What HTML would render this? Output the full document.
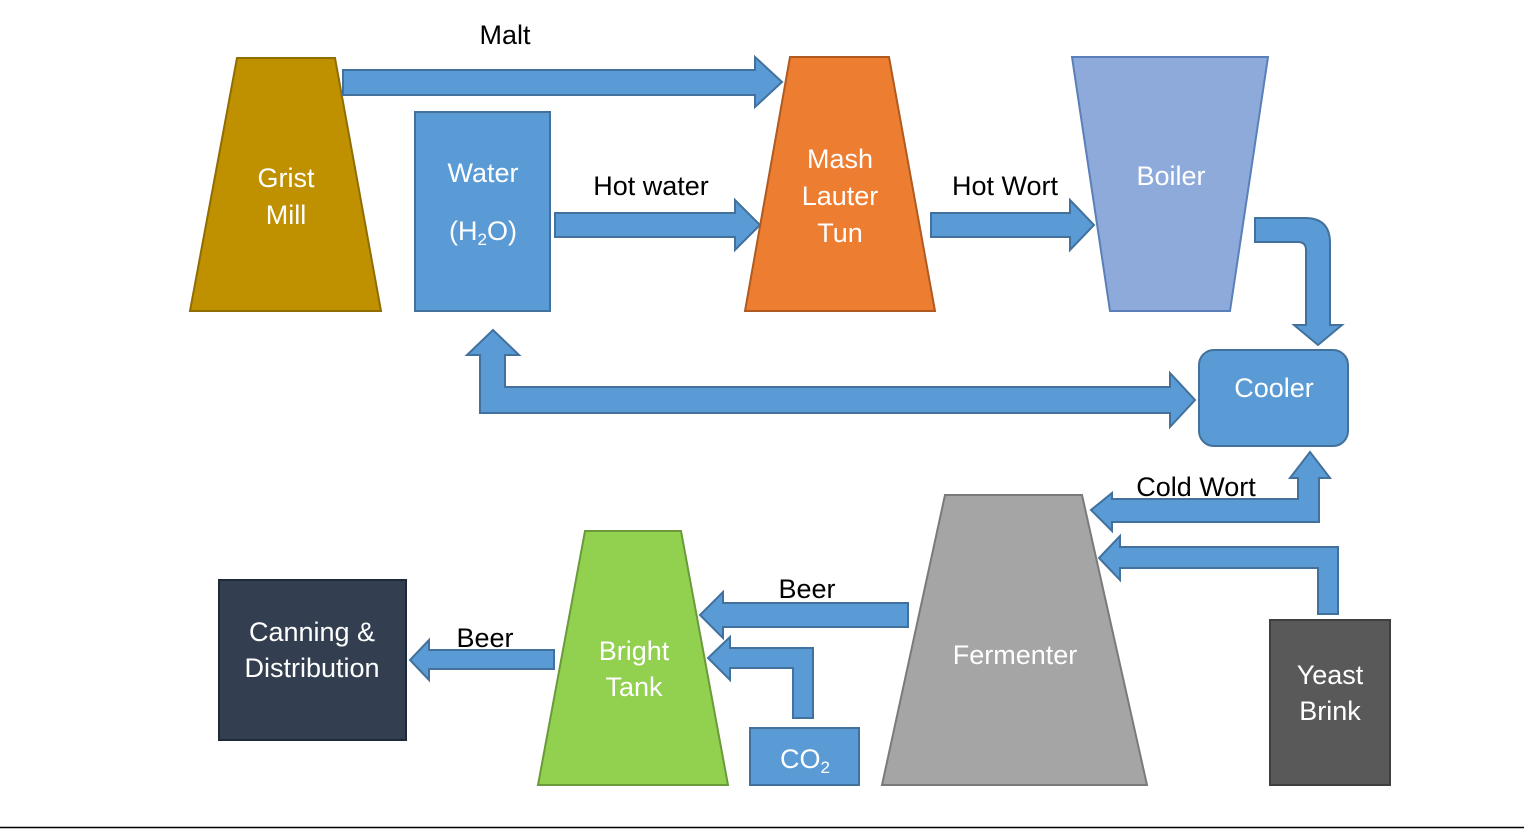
<!DOCTYPE html>
<html><head><meta charset="utf-8"><style>
html,body{margin:0;padding:0;background:#fff;}
svg{display:block;}
text{font-family:"Liberation Sans",sans-serif;font-size:27px;}
.w{fill:#fff;}
.k{fill:#000;}
.a{fill:#5b9bd5;stroke:#41719c;stroke-width:2;}
</style></head><body>
<svg width="1524" height="829" viewBox="0 0 1524 829" xmlns="http://www.w3.org/2000/svg">
<polygon points="237,58 335,58 381,311 190,311" fill="#bf9000" stroke="#8f6d00" stroke-width="2"/>
<text class="w" x="286" y="187" text-anchor="middle">Grist</text>
<text class="w" x="286" y="224" text-anchor="middle">Mill</text>
<polygon class="a" points="343,70 755,70 755,57 782,82 755,107 755,95 343,95"/>
<text class="k" x="505" y="44" text-anchor="middle">Malt</text>
<rect x="415" y="112" width="135" height="199" fill="#5b9bd5" stroke="#41719c" stroke-width="2"/>
<text class="w" x="483" y="182" text-anchor="middle">Water</text>
<text class="w" x="483" y="240" text-anchor="middle">(H<tspan font-size="17" dy="5">2</tspan><tspan dy="-5">O)</tspan></text>
<polygon class="a" points="555,213 735,213 735,200 760,225 735,250 735,237 555,237"/>
<text class="k" x="651" y="195" text-anchor="middle">Hot water</text>
<polygon points="790,57 889,57 935,311 745,311" fill="#ed7d31" stroke="#ae5a21" stroke-width="2"/>
<text class="w" x="840" y="168" text-anchor="middle">Mash</text>
<text class="w" x="840" y="205" text-anchor="middle">Lauter</text>
<text class="w" x="840" y="242" text-anchor="middle">Tun</text>
<polygon class="a" points="931,213 1070,213 1070,200 1094,225 1070,250 1070,237 931,237"/>
<text class="k" x="1005" y="195" text-anchor="middle">Hot Wort</text>
<polygon points="1072,57 1268,57 1230,311 1110,311" fill="#8eaadb" stroke="#5b7fb8" stroke-width="2"/>
<text class="w" x="1171" y="185" text-anchor="middle">Boiler</text>
<path class="a" d="M1255,218 L1305,218 Q1330,218 1330,243 L1330,325 L1342,325 L1318,345 L1294,325 L1306,325 L1306,250 Q1306,242 1298,242 L1255,242 Z"/>
<rect x="1199" y="350" width="149" height="96" rx="15" fill="#5b9bd5" stroke="#41719c" stroke-width="2"/>
<text class="w" x="1274" y="397" text-anchor="middle">Cooler</text>
<polygon class="a" points="480,413 1170,413 1170,427 1195,400 1170,373 1170,387 505,387 505,355 519,355 493,330 467,355 480,355"/>
<polygon class="a" points="1319,522 1112,522 1112,531 1091,510 1112,493 1112,499 1298,499 1298,478 1290,478 1310,452 1330,478 1319,478"/>
<text class="k" x="1196" y="496" text-anchor="middle">Cold Wort</text>
<polygon points="945,495 1082,495 1147,785 882,785" fill="#a5a5a5" stroke="#7a7a7a" stroke-width="2"/>
<text class="w" x="1015" y="664" text-anchor="middle">Fermenter</text>
<polygon class="a" points="1318,614 1338,614 1338,547 1120,547 1120,536 1099,558 1120,580 1120,568 1318,568"/>
<rect x="1270" y="620" width="120" height="165" fill="#595959" stroke="#3f3f3f" stroke-width="2"/>
<text class="w" x="1330" y="684" text-anchor="middle">Yeast</text>
<text class="w" x="1330" y="720" text-anchor="middle">Brink</text>
<polygon class="a" points="908,603 723,603 723,592 700,615 723,638 723,627 908,627"/>
<text class="k" x="807" y="598" text-anchor="middle">Beer</text>
<polygon class="a" points="813,718 813,648 730,648 730,637 708,658 730,680 730,668 793,668 793,718"/>
<rect x="750" y="728" width="109" height="57" fill="#5b9bd5" stroke="#41719c" stroke-width="2"/>
<text class="w" x="805" y="768" text-anchor="middle">CO<tspan font-size="17" dy="5">2</tspan></text>
<polygon points="585,531 681,531 728,785 538,785" fill="#92d050" stroke="#6a9a3a" stroke-width="2"/>
<text class="w" x="634" y="660" text-anchor="middle">Bright</text>
<text class="w" x="634" y="696" text-anchor="middle">Tank</text>
<polygon class="a" points="554,650 429,650 429,640 410,660 429,680 429,669 554,669"/>
<text class="k" x="485" y="647" text-anchor="middle">Beer</text>
<rect x="219" y="580" width="187" height="160" fill="#333f50" stroke="#1f2a38" stroke-width="2"/>
<text class="w" x="312" y="641" text-anchor="middle">Canning &amp;</text>
<text class="w" x="312" y="677" text-anchor="middle">Distribution</text>
<line x1="0" y1="827.5" x2="1524" y2="827.5" stroke="#000" stroke-width="1.5"/>
</svg>
</body></html>
